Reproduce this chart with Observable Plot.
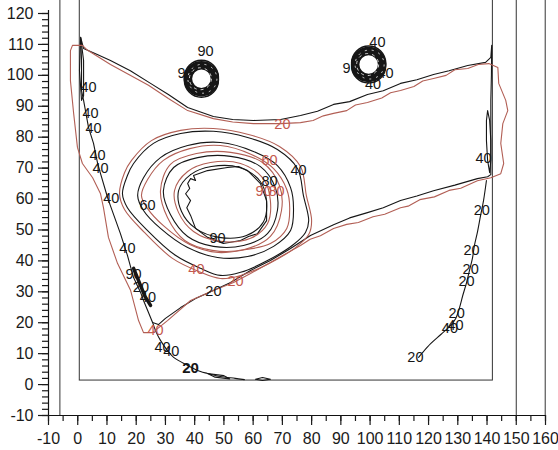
<!DOCTYPE html>
<html><head><meta charset="utf-8">
<script src="https://cdn.jsdelivr.net/npm/d3@7"></script>
<script src="https://cdn.jsdelivr.net/npm/@observablehq/plot@0.6"></script>
<style>
html,body{margin:0;padding:0;background:#fff;}
#chart{width:558px;height:450px;}
</style></head><body><div id="chart"></div>
<script>
// ---- tick labels ----
const xMajorTicks = [-10,0,10,20,30,40,50,60,70,80,90,100,110,120,130,140,150,160];
const yMajorTicks = [-10,0,10,20,30,40,50,60,70,80,90,100,110,120];

// ---- frame lines ----
const frameLinesX = [-6.1, 150, 159.9];
const innerBox = [{x1: 0.7, x2: 142, y1: 1.3, y2: 124.5}];

// ---- contour lines (closed loops) ----
const red20 = [[-1.8,109.7],[1.6,109.7],[3.4,108.1],[11.2,103.5],[24.2,96.8],[31,92.5],[37.6,88.6],[46.4,86.0],[53,84.9],[60.1,84.4],[69.4,84.4],[76.2,84.7],[80.5,85.4],[84,86.9],[87.5,87.7],[92,88.6],[95,90.4],[99.1,91.2],[104,92.7],[107,94.4],[110.4,95.1],[115,96.4],[118,98.2],[121.7,99.0],[126,100.0],[129,101.8],[133.4,102.2],[137,103.5],[140.6,103.8],[143.7,102.5],[144.0,97.4],[146.4,91.9],[147.1,88.6],[145.4,84.4],[144.7,78.0],[145.7,71.5],[144.7,68.2],[141.3,66.9],[136.7,65.9],[131,63.5],[127,62.8],[122,60.7],[117,59.8],[113,57.7],[110.4,57.2],[105,55.1],[101,54.3],[96,52.4],[92,51.8],[87.5,50.5],[83,48.1],[79.5,47.0],[76.2,45.0],[65.9,39.5],[59.1,35.9],[53.3,33.0],[46.4,30.4],[38.6,27.2],[30.7,20.7],[25.6,16.8],[22.5,16.8],[20.8,20.7],[18.1,30.4],[13.6,39.2],[10.5,47.6],[8.8,57.2],[7.8,61.7],[5.1,66.9],[1.6,71.5],[-0.1,76.7],[-1.4,87.7],[-2.5,98.3],[-2.5,108.0]];

const black20 = [[2.0,108.7],[6.5,106.8],[11.2,104.8],[18,101.5],[24.9,97.4],[31,93.8],[37.6,89.6],[46.4,86.7],[53,85.7],[60.1,85.4],[69.4,85.7],[76.2,87.0],[82,88.4],[87.5,90.6],[93,91.5],[99.1,93.8],[104.5,95.0],[110.4,97.4],[116,98.6],[121.7,100.3],[127,101.5],[133.4,103.2],[139.5,104.2],[141.3,105.8],[141.6,109.7],[141.5,100],[141.3,91.9],[141.3,67.9],[140.2,67.2],[136.7,66.6],[129,64.5],[121.7,62.7],[116,61.0],[110.4,59.5],[104.5,57.2],[99.1,55.6],[93,53.9],[87.5,51.7],[79.6,48.2],[72.8,44.0],[65.9,40.1],[59.1,36.9],[52.3,33.0],[46.4,30.4],[40.3,27.8],[35.2,24.9],[30.0,21.4],[27.6,19.4],[25.6,20.1],[24.2,23.3],[22.5,27.2],[21.5,29.8],[19.1,34.6],[17.0,41.8],[14.6,48.8],[11.2,57.8],[10.2,60.5],[7.8,68.2],[6.8,71.5],[5.4,78.0],[3.7,83.1],[2.0,91.9],[1.3,95.1],[1.3,104.8],[1.0,112.3]];

const loop40Black = [[15.3,61.7],[17.0,67.6],[19.1,71.5],[25.9,78.0],[35.2,81.2],[46.4,81.9],[58.1,79.9],[68.3,76.0],[75.2,69.8],[77.2,61.1],[79.0,53.0],[77.9,49.2],[73.8,45.3],[64.9,40.1],[55.7,36.3],[48.8,35.3],[42.0,37.6],[33.4,41.8],[23.9,49.8],[17.0,57.2]];
const loop40Red = [[14.3,61.7],[16.0,68.5],[18.4,72.5],[25.2,78.9],[35.2,82.2],[46.4,82.8],[58.4,80.9],[69.0,77.0],[76.2,70.5],[78.2,61.1],[80.0,53.0],[79.0,48.5],[74.5,44.3],[65.3,39.1],[55.7,35.3],[48.8,34.3],[41.3,36.6],[32.4,40.8],[22.8,49.2],[16.0,56.6]];
const loop60Black = [[20.5,61.1],[22.5,66.9],[28.3,73.4],[37.6,77.3],[48.8,78.3],[60.1,75.4],[68.3,70.8],[72.8,63.7],[73.8,57.2],[72.8,49.8],[67.0,44.7],[58.1,41.4],[47.8,41.1],[37.6,44.3],[28.3,50.5],[22.5,56.3]];
const loop60Red = [[21.8,61.1],[23.9,66.3],[29.3,72.5],[38.3,76.3],[48.8,77.3],[59.4,74.4],[67.0,69.8],[71.5,63.1],[72.5,57.2],[71.5,50.5],[65.9,45.6],[57.7,43.7],[48.1,42.7],[38.3,45.3],[29.3,51.4],[23.9,56.9]];
const loop80Black = [[29.3,62.7],[32.8,70.2],[41.0,73.4],[52.3,73.8],[62.5,70.5],[67.6,63.7],[68.3,56.3],[64.9,48.8],[56.7,45.0],[46.4,44.7],[37.6,47.9],[31.7,55.0]];
const loop80Red = [[28.3,62.7],[31.7,71.2],[40.6,74.7],[52.3,75.1],[63.2,71.8],[69.0,64.4],[69.7,56.3],[65.9,47.9],[57.0,43.7],[46.0,43.4],[36.6,46.6],[30.7,54.0]];
const loop90Red = [[33.1,62.7],[37.6,68.9],[45.4,71.8],[55.7,71.5],[63.5,66.6],[65.9,59.5],[64.9,52.0],[59.1,47.3],[48.8,46.3],[39.6,49.5],[34.5,55.6]];
const loop90Black = [[34.5,62.7],[38.6,67.9],[45.7,70.5],[55.3,70.2],[62.5,65.6],[64.6,59.2],[63.5,52.6],[57.7,48.2],[48.4,47.6],[40.3,50.5],[35.5,56.0]];
const loopPeak = [[37.6,65.0],[38.6,66.6],[40.3,66.0],[39.6,67.6],[44.4,69.2],[51.2,70.2],[55.0,70.5],[58.1,69.2],[62.5,65.0],[64.6,59.5],[64.6,53.0],[61.5,48.8],[58.4,47.9],[55.7,46.6],[49.8,45.6],[44.4,47.6],[40.3,50.5],[38.6,54.7],[37.3,57.2],[38.6,59.5],[36.9,61.7],[38.3,63.4]];
const leftNarrowLoop = [[1.0,112.3],[2.0,104.8],[2.0,93.4],[1.3,91.9],[0.6,101.6]];
const rightNarrowLoop = [[140.2,88.6],[140.9,85.4],[141.3,78.9],[141.3,72.5],[140.9,68.5],[140.2,72.5],[139.8,78.9],[139.8,85.4]];
const bottomLoopA = [[44.4,3.6],[47,2.4],[52,1.8],[50,2.9]];
const bottomLoopB = [[60.8,1.7],[63.2,2.3],[65.9,1.7],[63.2,1.3]];

// ---- open contour lines ----
const diagTail = [[25.6,20.1],[26.9,16.8],[28.3,14.3],[30.7,11.0],[32.8,8.8],[37.6,6.2],[42.0,4.2],[44.4,3.6],[48.8,2.6],[53.9,2.0],[57,1.6]];
const rightCurve = [[139.8,66.0],[138.8,59.5],[137.8,54.7],[136.7,49.2],[135.7,45.0],[135.0,40.8],[134.0,36.9],[133.0,33.0],[131.7,28.8],[130.6,24.9],[129.3,21.4],[127.2,18.8],[124.2,16.2],[120.8,13.3],[118.0,10.4],[116.6,8.8]];
const scribble = [[19.1,37.6],[21.5,32.0],[23.0,28.5],[24.9,25.6]];

// ---- small ring contours (centres) ----
const ringCenters = [[42.3,98.9],[99.5,103.5]];

// ---- contour labels [x, y, text] ----
const blackLabels = [[3.7,96.1,"40"],[4.4,87.7,"40"],[5.4,82.8,"40"],[6.8,74.1,"40"],[7.8,69.9,"40"],[11.5,60.2,"40"],[17.0,44.0,"40"],[19.1,35.6,"90"],[21.6,31.5,"20"],[24.0,28.3,"40"],[29.0,12.0,"40"],[32.0,10.6,"40"],[23.9,57.8,"60"],[47.8,47.3,"90"],[46.4,30.1,"20"],[65.6,65.6,"80"],[75.5,69.2,"40"],[138.8,73.1,"40"],[138.2,56.3,"20"],[134.7,43.4,"20"],[134.4,37.2,"20"],[133.0,33.4,"20"],[129.6,23.0,"20"],[127.3,18.3,"40"],[129.2,19.3,"40"],[115.5,8.8,"20"],[43.7,107.8,"90"],[35.5,100.6,"9"],[102.5,110.6,"40"],[91.9,102.2,"9"],[105.3,100.6,"40"],[101,97.0,"40"]];
const boldLabels = [[38.6,5.2,"20"]];
const redLabels = [[70.0,84.1,"20"],[65.6,72.5,"60"],[63.6,62.4,"90"],[68.0,62.4,"80"],[40.6,37.2,"40"],[54.0,33.3,"20"],[26.6,17.5,"40"]];

const BLACK = "#161616";
const RED = "#b25f55";
const REDTXT = "#c4594f";
const FONT = "'Liberation Sans', Arial, sans-serif";

const outerLoops = [black20, leftNarrowLoop, rightNarrowLoop, bottomLoopA, bottomLoopB];
const smoothBlackLoops = [loop40Black, loop60Black, loop80Black, loop90Black];
const smoothRedLoops = [loop40Red, loop60Red, loop80Red, loop90Red];
const blackPaths = [diagTail, rightCurve];

const chart = Plot.plot({
  width: 558, height: 450,
  marginLeft: 48, marginRight: 13, marginTop: 13, marginBottom: 35,
  x: {domain: [-10, 160]},
  y: {domain: [-10, 120]},
  style: {fontFamily: FONT, fontSize: "16px", color: "#1a1a1a", background: "white"},
  marks: [
    Plot.rect(innerBox, {x1: "x1", x2: "x2", y1: "y1", y2: "y2", fill: "none", stroke: "#333", strokeWidth: 1}),
    Plot.ruleX(frameLinesX, {y1: -10, y2: 124.5, stroke: "#333", strokeWidth: 1}),
    Plot.ruleX([-10], {y1: -10, y2: 121, stroke: "#111", strokeWidth: 1.2}),
    Plot.ruleY([-10], {x1: -10, x2: 160, stroke: "#111", strokeWidth: 1.2}),
    Plot.axisX({ticks: xMajorTicks, tickSize: 10, tickPadding: 7, tickFormat: d => String(d), label: null, fontSize: 16, strokeWidth: 1.2}),
    Plot.axisX({ticks: d3.range(-10, 161, 5), tickSize: 6, tickFormat: () => "", label: null, strokeWidth: 1.2}),
    Plot.axisY({ticks: yMajorTicks, tickSize: 10, tickPadding: 5, tickFormat: d => String(d), label: null, fontSize: 16, strokeWidth: 1.2}),
    Plot.axisY({ticks: d3.range(-10, 121, 2), tickSize: 6, tickFormat: () => "", label: null, strokeWidth: 1.2}),
    ...outerLoops.map(d => Plot.line(d, {curve: "linear-closed", stroke: BLACK, strokeWidth: 1.1})),
    ...smoothBlackLoops.map(d => Plot.line(d, {curve: "catmull-rom-closed", stroke: BLACK, strokeWidth: 1.1})),
    Plot.line(loopPeak, {curve: "linear-closed", stroke: BLACK, strokeWidth: 1.1}),
    ...blackPaths.map(d => Plot.line(d, {curve: "catmull-rom", stroke: BLACK, strokeWidth: 1.1})),
    Plot.line(scribble, {stroke: BLACK, strokeWidth: 3.5}),
    Plot.line(red20, {curve: "linear-closed", stroke: RED, strokeWidth: 1.1}),
    ...smoothRedLoops.map(d => Plot.line(d, {curve: "catmull-rom-closed", stroke: RED, strokeWidth: 1.1})),
    Plot.text(blackLabels, {x: d => d[0], y: d => d[1], text: d => d[2], fill: BLACK, fontSize: 14.5}),
    Plot.text(boldLabels, {x: d => d[0], y: d => d[1], text: d => d[2], fill: BLACK, fontSize: 15, fontWeight: "bold"}),
    Plot.text(redLabels, {x: d => d[0], y: d => d[1], text: d => d[2], fill: REDTXT, fontSize: 14.5}),
    Plot.dot(ringCenters, {r: 13.5, stroke: BLACK, strokeWidth: 8.5, fill: "none"}),
    Plot.dot(ringCenters, {r: 17, dy: -1.5, stroke: BLACK, strokeWidth: 1.5, fill: "none"}),
    Plot.dot(ringCenters, {r: 17, dy: 1.5, stroke: BLACK, strokeWidth: 1.5, fill: "none"}),
    Plot.dot(ringCenters, {r: 11, dx: -1, stroke: "#fff", strokeWidth: 0.8, fill: "none", strokeDasharray: "3,4"}),
    Plot.dot(ringCenters, {r: 14.5, dx: 1, stroke: "#fff", strokeWidth: 0.8, fill: "none", strokeDasharray: "2,5"})
  ]
});
document.getElementById("chart").appendChild(chart);
</script>
</body></html>
